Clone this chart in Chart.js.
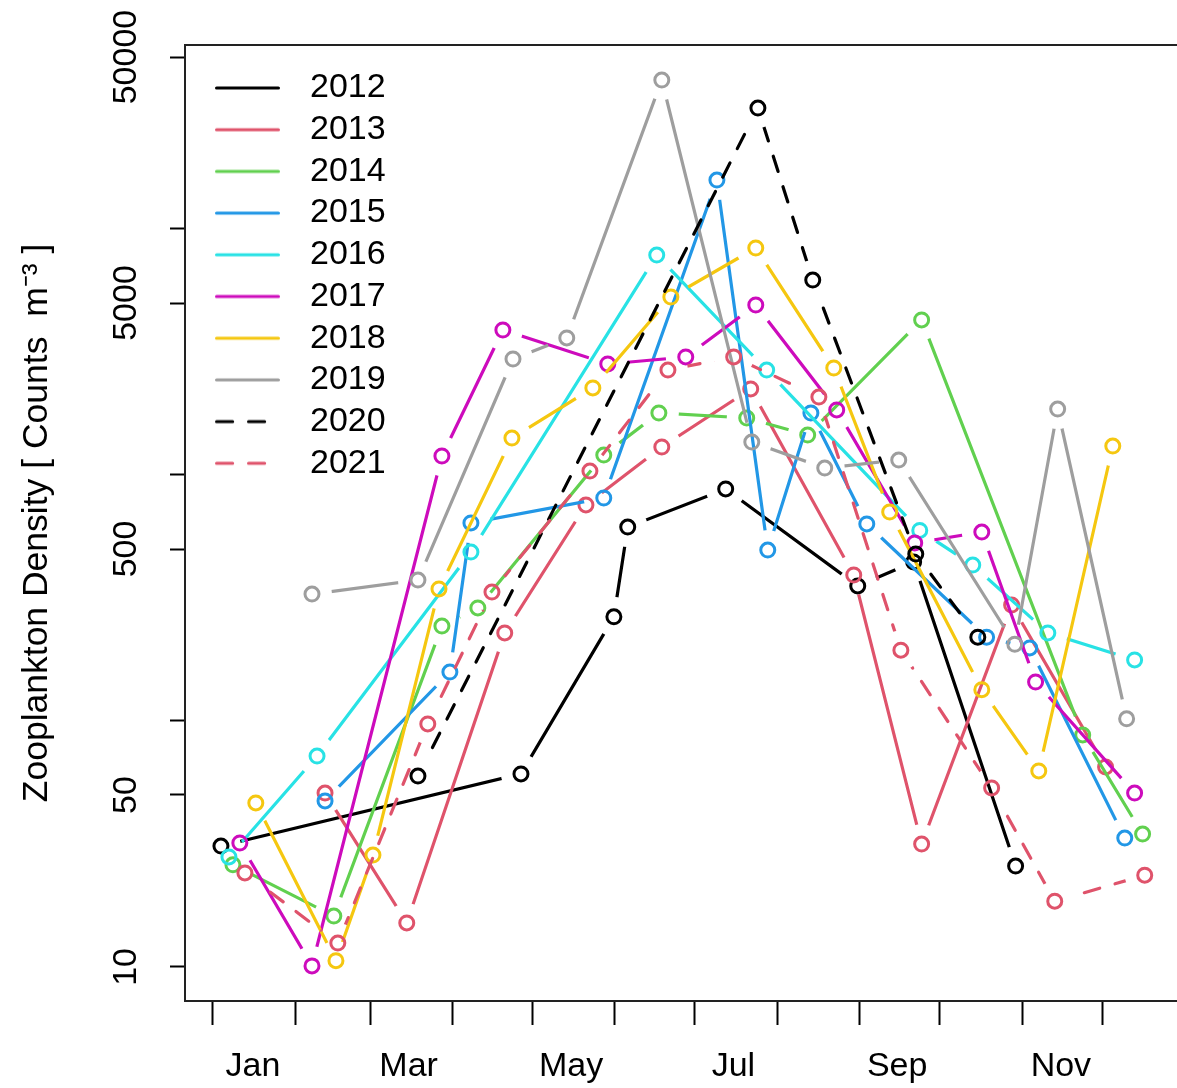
<!DOCTYPE html>
<html>
<head>
<meta charset="utf-8">
<title>Zooplankton density</title>
<script src="https://cdn.jsdelivr.net/npm/chart.js@4.4.1/dist/chart.umd.min.js"></script>
<style>
    html, body { margin: 0; padding: 0; background: #fff; overflow: hidden; }
    #wrap { width: 1184px; height: 1088px; }
</style>
</head>
<body>
<div id="wrap"><canvas id="myChart" width="1184" height="1088"></canvas></div>
<script>
// day of year / density (counts m^-3), one pair of arrays per year
const days2012 = [4.0, 116.7, 151.6, 156.8, 193.6, 243.2, 264.2, 302.5];
const dens2012 = [31.0, 60.9, 265, 614, 877, 354, 443, 25.7];

const days2013 = [43.1, 73.8, 110.6, 141.1, 169.6, 203.0, 241.7, 267.2, 301.0, 336.3];
const dens2013 = [50.9, 15.1, 228, 755, 1299, 2236, 392, 31.6, 296, 65.0];

const days2014 = [8.5, 46.4, 87.0, 100.5, 147.8, 168.5, 201.5, 224.4, 267.2, 327.7, 350.2];
const dens2014 = [26.0, 16.1, 243, 288, 1205, 1786, 1704, 1453, 4266, 87.7, 34.7];

const days2015 = [43.1, 90.0, 97.9, 147.8, 190.3, 209.4, 225.6, 246.6, 291.6, 307.8, 343.5];
const dens2015 = [47.3, 158, 638, 806, 15810, 495, 1786, 632, 219, 198, 33.4];

const days2016 = [7.0, 40.1, 97.9, 167.7, 209.0, 266.5, 286.4, 314.6, 347.2];
const dens2016 = [28.0, 72.0, 486, 7834, 2670, 595, 430, 228, 177];

const days2017 = [11.1, 38.2, 87.0, 109.9, 149.3, 178.6, 204.9, 235.3, 264.6, 289.8, 310.0, 347.2];
const dens2017 = [31.9, 10.1, 1194, 3884, 2825, 3017, 4907, 1837, 529, 586, 144, 50.9];

const days2018 = [17.1, 47.2, 61.1, 85.9, 113.3, 143.7, 173.0, 204.9, 234.2, 255.2, 289.8, 311.2, 339.0];
const dens2018 = [46.4, 10.6, 28.5, 344, 1413, 2257, 5289, 8368, 2721, 707, 134, 62.6, 1311];

const days2019 = [38.2, 78.0, 113.7, 133.9, 169.6, 203.4, 230.8, 258.6, 302.2, 318.3, 344.2];
const dens2019 = [328, 374, 2960, 3604, 40300, 1361, 1067, 1150, 205, 1853, 102];

const days2020 = [78.0, 205.7, 226.3, 265.0, 288.3];
const dens2020 = [59.7, 31000, 6200, 477, 219];

const days2021 = [13.0, 47.9, 81.7, 105.8, 142.6, 171.9, 196.6, 228.6, 259.4, 293.5, 317.2, 351.0];
const dens2021 = [24.1, 12.5, 97.2, 334, 1037, 2670, 3017, 2074, 194, 53.4, 18.5, 23.6];

const years = ['2012', '2013', '2014', '2015', '2016', '2017', '2018', '2019', '2020', '2021'];
const colors = ['#000000', '#DF536B', '#61D04F', '#2297E6', '#28E2E5',
    '#CD0BBC', '#F5C710', '#9E9E9E', '#000000', '#DF536B'];
const dashed = [false, false, false, false, false, false, false, false, true, true];
const allDays = [days2012, days2013, days2014, days2015, days2016, days2017, days2018, days2019, days2020, days2021];
const allDens = [dens2012, dens2013, dens2014, dens2015, dens2016, dens2017, dens2018, dens2019, dens2020, dens2021];

// axis ticks
const monthStarts = [1, 32, 60, 91, 121, 152, 182, 213, 244, 274, 305, 335];
const monthLabelDays = [16, 74.5, 135.5, 196.5, 258, 319.5];
const monthLabels = ['Jan', 'Mar', 'May', 'Jul', 'Sep', 'Nov'];
const yTicks = [10, 50, 100, 500, 1000, 5000, 10000, 50000];
const yLabels = [10, 50, 500, 5000, 50000];

const LW = 3.2;
const DASH = [16, 16];
const GAP = 20;
const FS = 34;

Chart.defaults.font.family = '"Liberation Sans", Arial, sans-serif';
Chart.defaults.color = '#000';

// short line sample for the legend (line shorter than the slot so the text sits further right)
function legendLine(color, dash) {
    const c = document.createElement('canvas');
    c.width = 78;
    c.height = 12;
    const g = c.getContext('2d');
    g.strokeStyle = color;
    g.lineWidth = LW;
    g.lineCap = 'round';
    if (dash) g.setLineDash(DASH);
    g.beginPath();
    g.moveTo(LW / 2, 6);
    g.lineTo(65 - LW / 2, 6);
    g.stroke();
    return c;
}

const datasets = [];
years.forEach((yr, i) => {
    const pts = allDays[i].map((d, k) => ({ x: d, y: allDens[i][k] }));
    datasets.push({
        label: yr,
        data: pts,
        gapLine: true,
        borderColor: colors[i],
        borderWidth: LW,
        borderDash: dashed[i] ? DASH : [],
        borderCapStyle: 'round',
        pointRadius: 0,
        pointHoverRadius: 0,
        pointStyle: legendLine(colors[i], dashed[i]),
        order: 100 - 2 * i
    });
    datasets.push({
        label: yr + ' points',
        data: pts,
        showLine: false,
        pointRadius: 7,
        pointHoverRadius: 7,
        pointBorderWidth: 3,
        pointBorderColor: colors[i],
        pointBackgroundColor: 'rgba(0,0,0,0)',
        order: 99 - 2 * i
    });
});

// lines stop short of the circles, like type = "b"
const gapPlugin = {
    id: 'gaps',
    beforeDatasetDraw(chart, args) {
        if (!chart.data.datasets[args.index].gapLine) return;
        const ctx = chart.ctx;
        const a = chart.chartArea;
        ctx.save();
        ctx.beginPath();
        ctx.rect(a.left, a.top, a.right - a.left, a.bottom - a.top);
        args.meta.data.forEach(p => {
            ctx.moveTo(p.x + GAP, p.y);
            ctx.arc(p.x, p.y, GAP, 0, Math.PI * 2);
        });
        ctx.clip('evenodd');
    },
    afterDatasetDraw(chart, args) {
        if (chart.data.datasets[args.index].gapLine) chart.ctx.restore();
    }
};

const framePlugin = {
    id: 'frame',
    afterDatasetsDraw(chart) {
        const a = chart.chartArea;
        const ctx = chart.ctx;
        ctx.save();
        ctx.strokeStyle = '#222';
        ctx.lineWidth = 2;
        ctx.strokeRect(a.left, a.top, a.right - a.left, a.bottom - a.top);
        ctx.restore();
    }
};

const legendShift = {
    id: 'legendShift',
    afterLayout(chart) {
        chart.legend.left = chart.chartArea.left + 22.3;
        chart.legend.top = chart.chartArea.top + 18.3;
    }
};

const ctx = document.getElementById('myChart');
const myChart = new Chart(ctx, { // eslint-disable-line
    type: 'line',
    data: { datasets: datasets },
    options: {
        responsive: false,
        animation: false,
        layout: { autoPadding: false, padding: { left: 0, top: 45, right: 2, bottom: 0 } },
        plugins: {
            tooltip: { enabled: false },
            legend: {
                position: 'chartArea',
                align: 'start',
                labels: {
                    usePointStyle: true,
                    pointStyleWidth: 78,
                    padding: 7.7,
                    color: '#000',
                    font: { size: FS },
                    filter: item => item.datasetIndex % 2 === 0,
                    sort: (a, b) => a.datasetIndex - b.datasetIndex
                }
            }
        },
        scales: {
            x: {
                type: 'linear',
                min: -9.5,
                max: 365,
                afterBuildTicks: s => {
                    s.ticks = monthStarts.concat(monthLabelDays)
                        .sort((a, b) => a - b)
                        .map(v => ({ value: v }));
                },
                afterFit: s => { s.height = 87; },
                ticks: {
                    autoSkip: false,
                    maxRotation: 0,
                    padding: 21,
                    font: { size: FS },
                    callback: v => {
                        const k = monthLabelDays.indexOf(v);
                        return k >= 0 ? monthLabels[k] : '';
                    }
                },
                grid: {
                    display: true,
                    drawOnChartArea: false,
                    tickLength: 24,
                    tickWidth: 2,
                    tickColor: c => (c.tick && monthLabelDays.includes(c.tick.value)) ? 'rgba(0,0,0,0)' : '#000'
                },
                border: { display: false }
            },
            y: {
                type: 'logarithmic',
                min: 7.27,
                max: 55950,
                afterBuildTicks: s => { s.ticks = yTicks.map(v => ({ value: v })); },
                afterFit: s => { s.width = 185; },
                ticks: {
                    autoSkip: false,
                    minRotation: 90,
                    maxRotation: 90,
                    crossAlign: 'center',
                    padding: -4.3,
                    font: { size: FS },
                    callback: v => yLabels.includes(v) ? String(v) : ''
                },
                grid: {
                    display: true,
                    drawOnChartArea: false,
                    tickLength: 15,
                    tickWidth: 2,
                    tickColor: '#000'
                },
                border: { display: false },
                title: {
                    display: true,
                    text: 'Zooplankton Density [ Counts  m\u207B\u00B3 ]',
                    color: '#000',
                    font: { size: 35.5 },
                    padding: { top: 15.7, bottom: 0 }
                }
            }
        }
    },
    plugins: [gapPlugin, framePlugin, legendShift]
});
</script>
</body>
</html>
